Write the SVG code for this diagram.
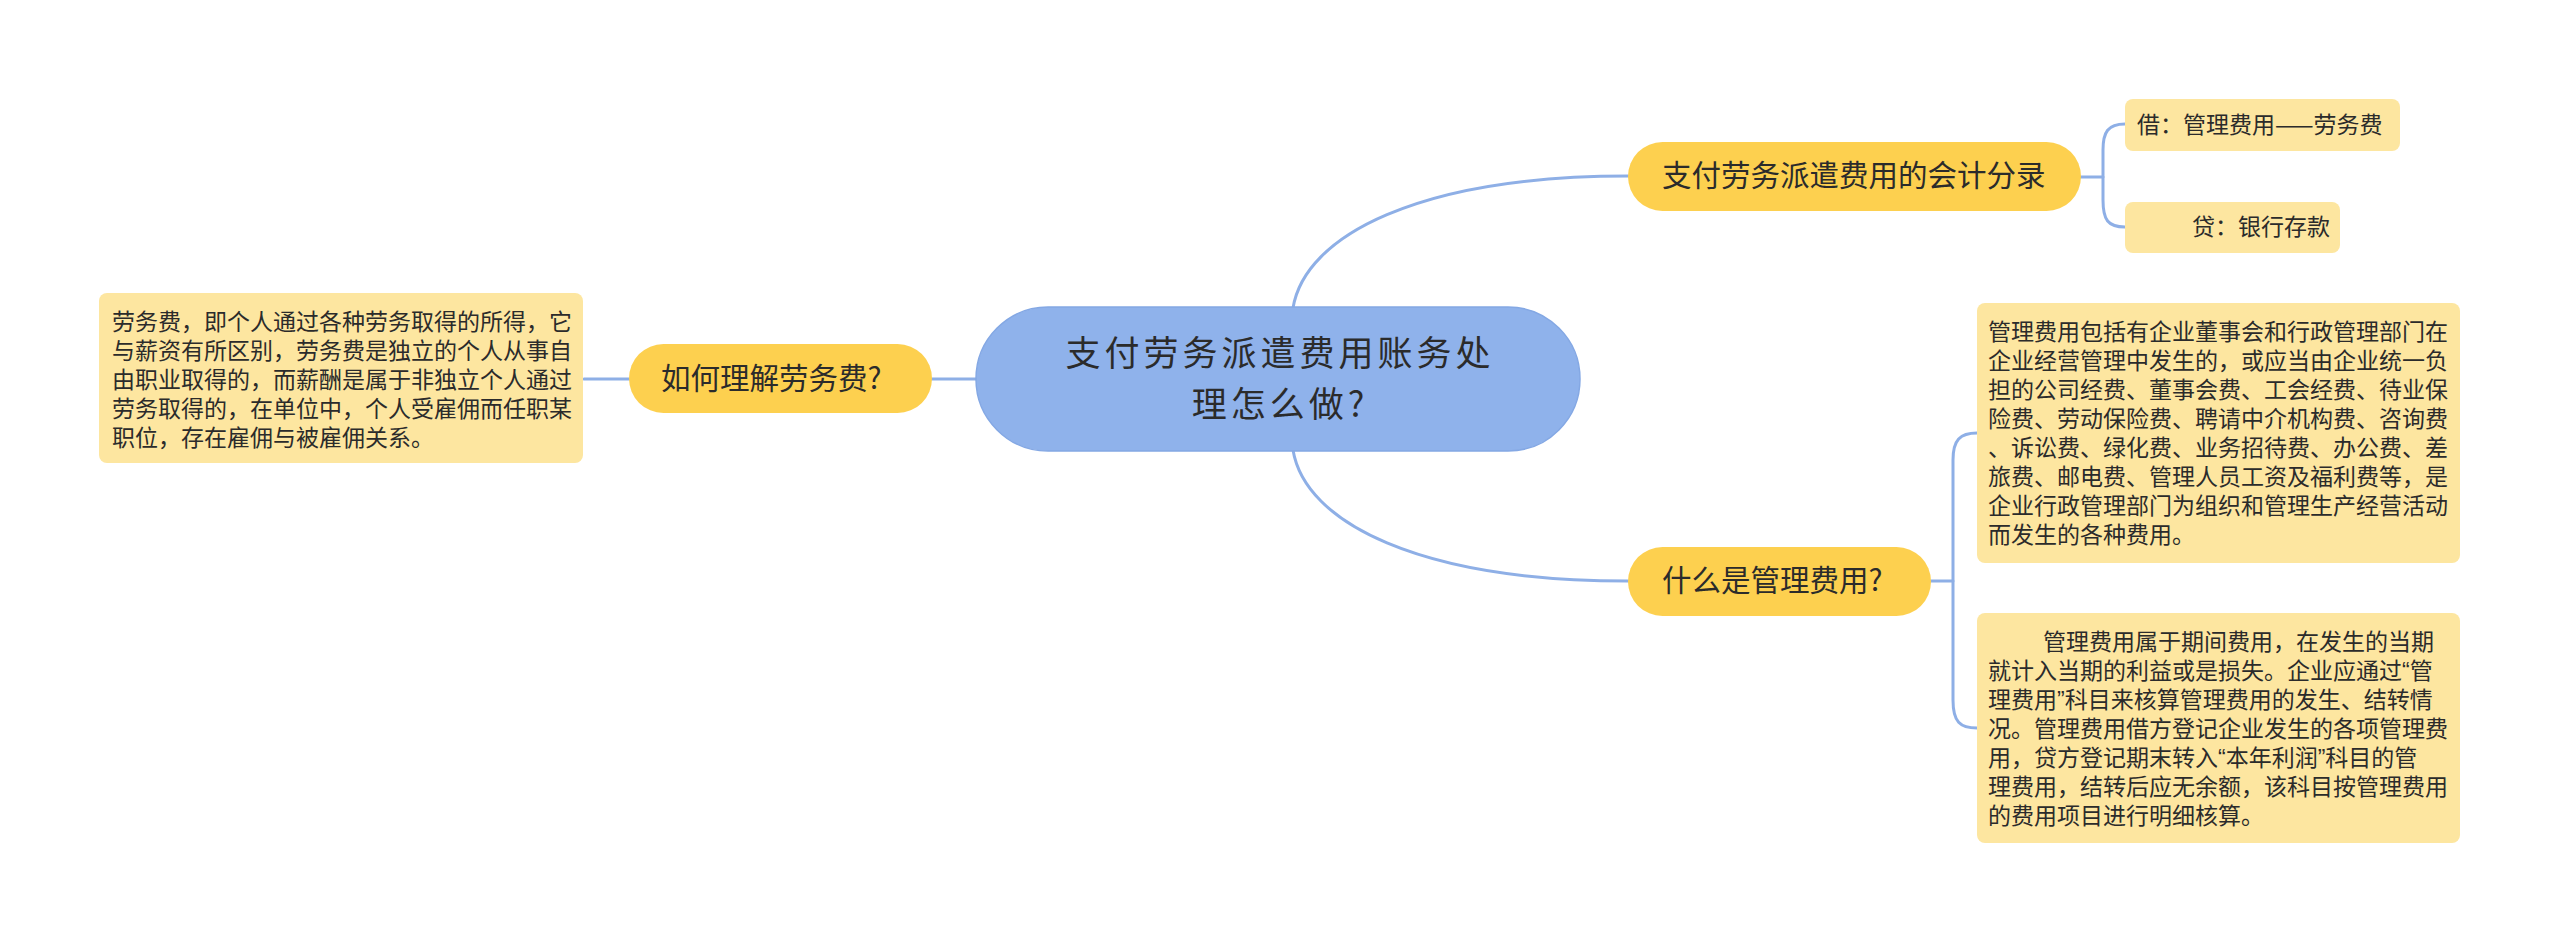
<svg xmlns="http://www.w3.org/2000/svg" width="2560" height="943" viewBox="0 0 2560 943">
<style>
.conn{fill:none;stroke:#8eafe6;stroke-width:3;stroke-linecap:round}
.center{fill:#8fb2eb;stroke:#84a8e4;stroke-width:1.5}
.branch{fill:#fdd04f}
.leaf{fill:#fde6a0}
text{font-family:"Noto Sans CJK SC","Noto Sans",sans-serif;fill:#2b2b2b}
.tc{font-size:35px;letter-spacing:4px}
.tb{font-size:29.5px}
.tl{font-size:23px}
.q{font-family:"Liberation Sans",sans-serif}
</style>
<rect width="2560" height="943" fill="#ffffff"/>
<g id="connectors">
<path class="conn" d="M932,379 H976"/>
<path class="conn" d="M584,379 H629"/>
<path class="conn" d="M1293,308 C1305,235 1420,176 1628,176"/>
<path class="conn" d="M1293,450 C1305,523 1420,581 1628,581"/>
<path class="conn" d="M2081,177 H2103"/>
<path class="conn" d="M2125,124 C2108,124 2103,132 2103,150 V200 C2103,220 2108,227 2125,227"/>
<path class="conn" d="M1931,581 H1953"/>
<path class="conn" d="M1977,433 C1960,433 1953,440 1953,460 V700 C1953,722 1960,728 1977,728"/>
</g>
<g id="center">
<rect class="center" x="976" y="307" width="604" height="144" rx="72"/>
<text class="tc" x="1280" y="366" text-anchor="middle">支付劳务派遣费用账务处</text>
<text class="tc" x="1280" y="417" text-anchor="middle">理怎么做?</text>
</g>
<g id="branch-left">
<rect class="branch" x="629" y="344" width="303" height="69" rx="34.5"/>
<text class="tb" x="661" y="389">如何理解劳务费?</text>
</g>
<g id="branch-top">
<rect class="branch" x="1628" y="142" width="453" height="69" rx="34.5"/>
<text class="tb" x="1662" y="186">支付劳务派遣费用的会计分录</text>
</g>
<g id="branch-bottom">
<rect class="branch" x="1628" y="547" width="303" height="69" rx="34.5"/>
<text class="tb" x="1662" y="591">什么是管理费用?</text>
</g>
<g id="leaf-debit">
<rect class="leaf" x="2125" y="99" width="275" height="52" rx="8"/>
<text class="tl" x="2137" y="133">借：管理费用——劳务费</text>
</g>
<g id="leaf-credit">
<rect class="leaf" x="2125" y="202" width="215" height="51" rx="8"/>
<text class="tl" x="2192" y="235">贷：银行存款</text>
</g>
<g id="leaf-left">
<rect class="leaf" x="99" y="293" width="484" height="170" rx="8"/>
<text class="tl" x="112" y="330">劳务费，即个人通过各种劳务取得的所得，它</text>
<text class="tl" x="112" y="359">与薪资有所区别，劳务费是独立的个人从事自</text>
<text class="tl" x="112" y="388">由职业取得的，而薪酬是属于非独立个人通过</text>
<text class="tl" x="112" y="417">劳务取得的，在单位中，个人受雇佣而任职某</text>
<text class="tl" x="112" y="446">职位，存在雇佣与被雇佣关系。</text>
</g>
<g id="leaf-def">
<rect class="leaf" x="1977" y="303" width="483" height="260" rx="8"/>
<text class="tl" x="1988" y="340">管理费用包括有企业董事会和行政管理部门在</text>
<text class="tl" x="1988" y="369">企业经营管理中发生的，或应当由企业统一负</text>
<text class="tl" x="1988" y="398">担的公司经费、董事会费、工会经费、待业保</text>
<text class="tl" x="1988" y="427">险费、劳动保险费、聘请中介机构费、咨询费</text>
<text class="tl" x="1988" y="456">、诉讼费、绿化费、业务招待费、办公费、差</text>
<text class="tl" x="1988" y="485">旅费、邮电费、管理人员工资及福利费等，是</text>
<text class="tl" x="1988" y="514">企业行政管理部门为组织和管理生产经营活动</text>
<text class="tl" x="1988" y="543">而发生的各种费用。</text>
</g>
<g id="leaf-period">
<rect class="leaf" x="1977" y="613" width="483" height="230" rx="8"/>
<text class="tl" x="2043" y="650">管理费用属于期间费用，在发生的当期</text>
<text class="tl" x="1988" y="679">就计入当期的利益或是损失。企业应通过<tspan class="q">“</tspan>管</text>
<text class="tl" x="1988" y="708">理费用<tspan class="q">”</tspan>科目来核算管理费用的发生、结转情</text>
<text class="tl" x="1988" y="737">况。管理费用借方登记企业发生的各项管理费</text>
<text class="tl" x="1988" y="766">用，贷方登记期末转入<tspan class="q">“</tspan>本年利润<tspan class="q">”</tspan>科目的管</text>
<text class="tl" x="1988" y="795">理费用，结转后应无余额，该科目按管理费用</text>
<text class="tl" x="1988" y="824">的费用项目进行明细核算。</text>
</g>
</svg>
